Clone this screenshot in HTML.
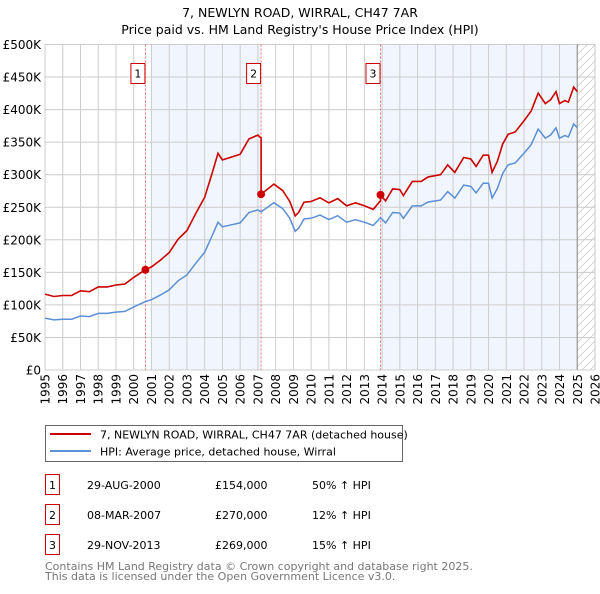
<!DOCTYPE html>
<html><head><meta charset="utf-8"><style>
body{margin:0;background:#fff;font-family:"DejaVu Sans","Liberation Sans",sans-serif;}
svg text{font-family:"DejaVu Sans","Liberation Sans",sans-serif;}
</style></head><body>
<svg id="chart" width="600" height="590" xmlns="http://www.w3.org/2000/svg">
<text x="300" y="17" text-anchor="middle" font-size="12.5">7, NEWLYN ROAD, WIRRAL, CH47 7AR</text>
<text x="300" y="34" text-anchor="middle" font-size="12.5">Price paid vs. HM Land Registry's House Price Index (HPI)</text>
<g id="plot"></g>
<g>
<rect x="45.5" y="425.5" width="357" height="36" fill="#fff" stroke="#666"/>
<line x1="50" y1="434" x2="91" y2="434" stroke="#cc0000" stroke-width="2"/>
<text x="100" y="438.5" font-size="11">7, NEWLYN ROAD, WIRRAL, CH47 7AR (detached house)</text>
<line x1="50" y1="451" x2="91" y2="451" stroke="#5b8fd6" stroke-width="2"/>
<text x="100" y="455.5" font-size="11">HPI: Average price, detached house, Wirral</text>
</g>
<g id="table" font-size="11"></g>
<text x="45" y="570" font-size="11" fill="#777">Contains HM Land Registry data © Crown copyright and database right 2025.</text>
<text x="45" y="580" font-size="11" fill="#777">This data is licensed under the Open Government Licence v3.0.</text>
</svg>
<script>
const hpiYears=[1995,1995.5,1996,1996.5,1997,1997.5,1998,1998.5,1999,1999.5,2000,2000.66,2001,2001.5,2002,2002.5,2003,2003.5,2004,2004.4,2004.75,2005,2005.5,2006,2006.5,2007,2007.18,2007.6,2007.9,2008.4,2008.8,2009.1,2009.3,2009.6,2010,2010.5,2011,2011.5,2012,2012.5,2013,2013.5,2013.91,2014.2,2014.6,2015,2015.2,2015.7,2016.2,2016.6,2017.3,2017.7,2018.1,2018.6,2019,2019.3,2019.7,2020,2020.2,2020.5,2020.8,2021.1,2021.5,2022,2022.4,2022.8,2023.2,2023.5,2023.8,2024,2024.3,2024.5,2024.8,2025];
const hpiValues=[79.5,77,78,78,83,82,87,87,89,90,97,105,108,115,123,137,146,164,181,205,227,220,223,226,242,246,243,251,257,248,233,213,218,232,233,238,231,237,227,231,227,222,234,226,242,241,233,252,252,258,261,274,264,284,282,272,287,287,264,279,302,315,318,333,346,370,356,361,372,356,360,358,378,372];
const saleYears=[2000.66,2007.18,2013.91];
const salePrices=[154,270,269];
const saleLabels=["1","2","3"];
const saleDates=["29-AUG-2000","08-MAR-2007","29-NOV-2013"];
const salePriceText=["£154,000","£270,000","£269,000"];
const saleHpiText=["50% ↑ HPI","12% ↑ HPI","15% ↑ HPI"];
const yTicks=[0,50,100,150,200,250,300,350,400,450,500];
const yTickLabels=["£0","£50K","£100K","£150K","£200K","£250K","£300K","£350K","£400K","£450K","£500K"];
const xTicks=[1995,1996,1997,1998,1999,2000,2001,2002,2003,2004,2005,2006,2007,2008,2009,2010,2011,2012,2013,2014,2015,2016,2017,2018,2019,2020,2021,2022,2023,2024,2025,2026];

const X0=45,X1=595,Y0=370,Y1=44.5,YR0=1995,YR1=2026,VMAX=500;
const xs=y=>X0+(y-YR0)/(YR1-YR0)*(X1-X0);
const ys=v=>Y0-v/VMAX*(Y0-Y1);
const NS="http://www.w3.org/2000/svg";
const plot=document.getElementById('plot');
function mk(tag,attrs,parent){const e=document.createElementNS(NS,tag);for(const k in attrs)e.setAttribute(k,attrs[k]);(parent||plot).appendChild(e);return e;}
function hpiAt(t){for(let i=0;i<hpiYears.length-1;i++){if(t<=hpiYears[i+1]){const f=(t-hpiYears[i])/(hpiYears[i+1]-hpiYears[i]);return hpiValues[i]+f*(hpiValues[i+1]-hpiValues[i]);}}return hpiValues[hpiValues.length-1];}

let sh=mk('rect',{x:xs(2001),y:Y1,width:xs(saleYears[1])-xs(2001),height:Y0-Y1,fill:'#eef3fc',opacity:0.8});


sh=mk('rect',{x:xs(saleYears[2]),y:Y1,width:xs(2025)-xs(saleYears[2]),height:Y0-Y1,fill:'#eef3fc',opacity:0.8});


const defs=mk('defs',{});
const pat=mk('pattern',{id:'hatch',width:8,height:8,patternUnits:'userSpaceOnUse'},defs);
mk('path',{d:'M0,8 L8,0',stroke:'#ccc','stroke-width':0.8},pat);
let hr=mk('rect',{x:xs(2025),y:Y1,width:X1-xs(2025),height:Y0-Y1,fill:'url(#hatch)'});


yTicks.forEach((v,i)=>{
 const l=mk('line',{x1:X0,x2:X1,y1:ys(v),y2:ys(v),stroke:'#ccc','stroke-width':1});
 
 
 const t=mk('text',{x:X0-4,y:ys(v)+4.5,'text-anchor':'end','font-size':12});
 t.textContent=yTickLabels[i];
 
 
});
xTicks.forEach(y=>{
 const l=mk('line',{x1:xs(y),x2:xs(y),y1:Y1,y2:Y0,stroke:'#ccc','stroke-width':1});
 
 
 const tx=xs(y)+4.5, ty=374;
 const t=mk('text',{x:tx,y:ty,'text-anchor':'end','font-size':12,transform:'rotate(-90 '+tx+' '+ty+')'});
 t.textContent=y;
 
 
});
let el=mk('line',{x1:xs(2025),x2:xs(2025),y1:Y1,y2:Y0,stroke:'#999','stroke-width':1.2});


saleYears.forEach((s,i)=>{
 const l=mk('line',{x1:xs(s),x2:xs(s),y1:Y1,y2:Y0,stroke:'#f07070','stroke-width':1,'stroke-dasharray':'2,2'});
 
 
 const b=mk('rect',{x:xs(s)-14.5,y:63.5,width:14,height:20,fill:'#fff',stroke:'#cc0000'});
 
 
 const t=mk('text',{x:xs(s)-7.5,y:77.5,'text-anchor':'middle','font-size':11});
 t.textContent=saleLabels[i];
 
 
});
let d=hpiYears.map((y,i)=>(i?'L':'M')+xs(y).toFixed(1)+','+ys(hpiValues[i]).toFixed(1)).join('');
let hp=mk('path',{d:d,fill:'none',stroke:'#5b8fd6','stroke-width':1.5});


function factorAt(t){let k=0;for(let i=0;i<saleYears.length;i++)if(t>=saleYears[i])k=i;return salePrices[k]/hpiAt(saleYears[k]);}
let pts=[];
hpiYears.forEach((y,i)=>{
 saleYears.forEach((s,j)=>{if(j>0&&i>0&&hpiYears[i-1]<s&&y>=s){pts.push([s,hpiAt(s)*salePrices[j-1]/hpiAt(saleYears[j-1])]);}});
 pts.push([y,hpiValues[i]*factorAt(y)]);
});
d=pts.map((p,i)=>(i?'L':'M')+xs(p[0]).toFixed(1)+','+ys(p[1]).toFixed(1)).join('');
let pp=mk('path',{d:d,fill:'none',stroke:'#cc0000','stroke-width':1.6});


saleYears.forEach((s,i)=>{
 const c=mk('circle',{cx:xs(s),cy:ys(salePrices[i]),r:4,fill:'#cc0000'});
 
 
});
const tb=document.getElementById('table');
saleYears.forEach((s,i)=>{
 const cy=485+i*30;
 const b=mk('rect',{x:45.5,y:cy-10.5,width:14,height:20,fill:'#fff',stroke:'#cc0000'},tb);
 
 
 const cells=[[52.5,saleLabels[i],'middle'],[87,saleDates[i],'start'],[215,salePriceText[i],'start'],[312,saleHpiText[i],'start']];
 cells.forEach(c=>{
  const t=mk('text',{x:c[0],y:cy+4,'text-anchor':c[2]},tb);
  t.textContent=c[1];
  
  
 });
});
</script>
</body></html>
